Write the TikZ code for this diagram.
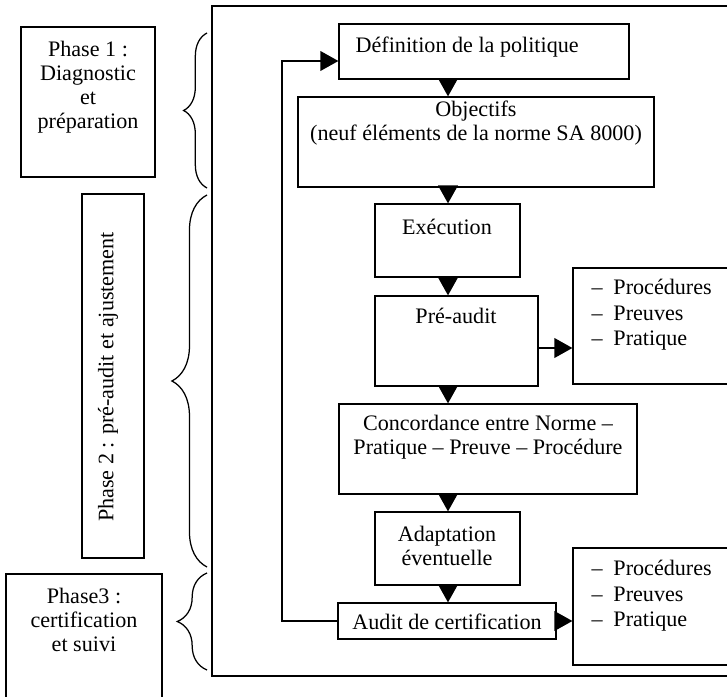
\documentclass[tikz,border=0pt]{standalone}
\usepackage{fontspec}
\setmainfont{Liberation Serif}
\usetikzlibrary{arrows.meta,fit,decorations.pathreplacing}

\begin{document}
\begin{tikzpicture}[x=0.556pt, y=-0.556pt, line width=0.7pt,
    boite/.style={draw, inner sep=0pt},
    texte/.style={align=center, inner sep=0pt, font=\fontsize{12.3}{13.3}\selectfont},
    liste/.style={align=left, inner sep=0pt, font=\fontsize{12.3}{14.2}\selectfont},
    fleche/.style={-{Triangle[length=10pt,width=11pt]}},
    accolade/.style={decorate, decoration={brace, amplitude=#1}}]
        \useasboundingbox (0,0) rectangle (727,697);

        % cadre et phases
        \draw[line width=0.8pt] (212,6) rectangle (745,676);
        \node[boite, fit={(21,27) (155,177)}] (phase1) {};
        \node[boite, fit={(82,194) (144,558)}] (phase2) {};
        \node[boite, fit={(6,574) (162,700)}] (phase3) {};

        \node[texte] (phase1-t) at (88,87) {Phase 1 :\\Diagnostic\\et\\préparation};
        \node[texte, rotate=90] (phase2-t) at (108,377) {Phase 2 : pré-audit et ajustement};
        \node[texte] (phase3-t) at (84,620) {Phase3 :\\certification\\et suivi};

        \draw[accolade=13pt] (207,188) -- (207,33);
        \draw[accolade=19.5pt] (207,567) -- (207,195);
        \draw[accolade=16.5pt] (207,670) -- (207,573);

        % etapes
        \node[boite, fit={(339,24) (629,79)}] (def) {};
        \node[boite, fit={(298,97) (654,187)}] (obj) {};
        \node[boite, fit={(375,204) (520,277)}] (exe) {};
        \node[boite, fit={(375,296) (538,386)}] (pre) {};
        \node[boite, fit={(339,404) (637,494)}] (conc) {};
        \node[boite, fit={(375,512) (520,585)}] (adapt) {};
        \node[boite, fit={(338,603) (556,639)}] (audit) {};
        \node[boite, fit={(573,268) (745,384)}] (liste1) {};
        \node[boite, fit={(573,548) (745,665)}] (liste2) {};

        \node[texte, anchor=west] (def-t) at (355,47) {Définition de la politique};
        \node[texte] (obj-t) at (476,123) {Objectifs\\(neuf éléments de la norme SA 8000)};
        \node[texte] (exe-t) at (447,227) {Exécution};
        \node[texte] (pre-t) at (456,316) {Pré-audit};
        \node[texte] (conc-t) at (488,437) {Concordance entre Norme --\\Pratique -- Preuve -- Procédure};
        \node[texte] (adapt-t) at (447,546) {Adaptation\\éventuelle};
        \node[texte] (audit-t) at (447,622) {Audit de certification};
        \node[liste, anchor=west] (liste1-t) at (591,315) {--\hspace{6pt}Procédures\\--\hspace{6pt}Preuves\\--\hspace{6pt}Pratique};
        \node[liste, anchor=west] (liste2-t) at (591,596) {--\hspace{6pt}Procédures\\--\hspace{6pt}Preuves\\--\hspace{6pt}Pratique};

        % fleches
        \coordinate (axe) at (448,0);
        \coordinate (retour) at (282,61);
        \coordinate (sortie) at (0,348);
        \draw[fleche] (def.south -| axe) -- (obj.north -| axe);
        \draw[fleche] (obj.south -| axe) -- (exe.north -| axe);
        \draw[fleche] (exe.south -| axe) -- (pre.north -| axe);
        \draw[fleche] (pre.south -| axe) -- (conc.north -| axe);
        \draw[fleche] (conc.south -| axe) -- (adapt.north -| axe);
        \draw[fleche] (adapt.south -| axe) -- (audit.north -| axe);
        \draw[fleche] (pre.east |- sortie) -- (liste1.west |- sortie);
        \draw[fleche] (audit.east) -- (liste2.west |- audit.east);
        \draw[fleche] (audit.west) -| (retour) -- (def.west |- retour);
    \end{tikzpicture}
\end{document}
